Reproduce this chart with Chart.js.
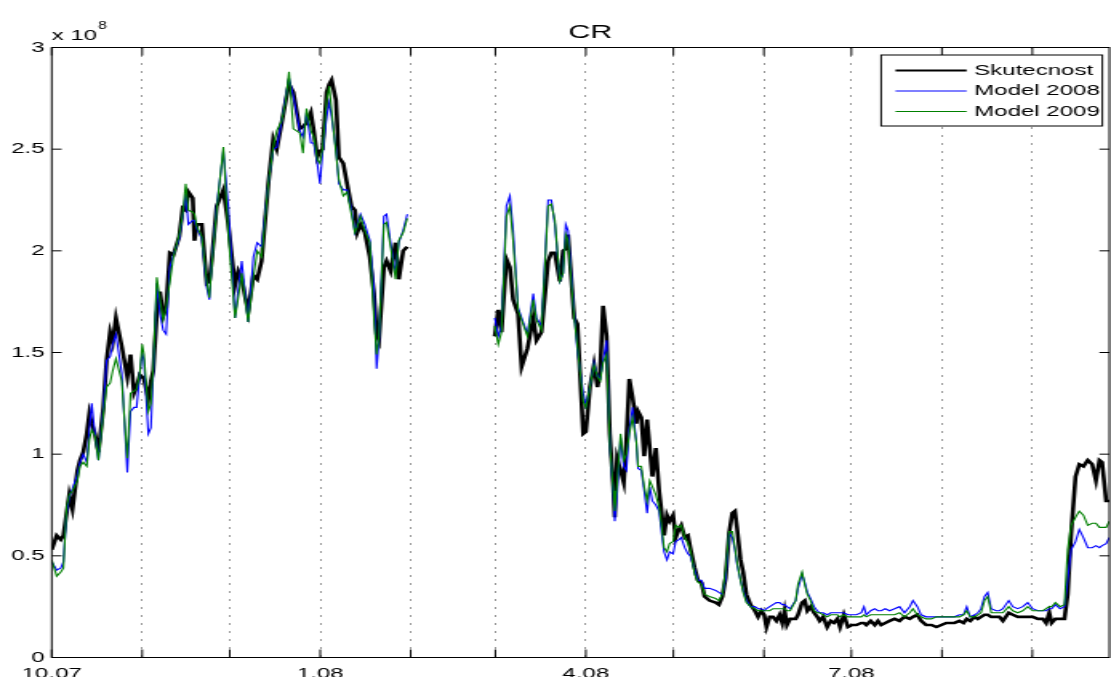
<!DOCTYPE html>
<html>
<head>
<meta charset="utf-8">
<title>CR</title>
<script src="https://cdn.jsdelivr.net/npm/chart.js@4"></script>
<style>
  html, body { margin: 0; padding: 0; background: #fff; }
  #chart { display: block; }
</style>
</head>
<body>
<!-- the figure is drawn narrow and stretched sideways, like the reference export -->
<canvas id="chart" width="694" height="677" style="width:1111px;height:677px"></canvas>
<script>
// --- 1. Data (values in units of 1e8, x = days since 1.10.2007) ---
const days = [
  0, 1.7, 3.1, 4.0, 5.1, 6.0, 7.1, 8.8, 9.7, 10.8, 12.0, 12.9, 13.7, 14.8, 16.0, 17.7, 18.8, 20.0, 20.9, 22.0,
  24.0, 25.9, 27.0, 28.2, 29.1, 30.2, 31.0, 31.6, 33.1, 34.0, 34.8, 36.0, 37.1, 38.2, 39.2, 40.5, 41.7, 43.7, 44.9, 45.9,
  46.8, 48.3, 48.9, 49.7, 51.4, 53.1, 54.0, 54.8, 56.5, 58.8, 60.5,
  62.8, 63.9, 65.1, 67.3, 69.1, 70.4, 71.9, 74.2, 75.9, 77.1, 78.8, 80.2, 81.3, 82.8, 85.0, 86.1, 87.3, 88.8, 89.8, 91.0,
  91.9, 92.8, 94.2, 95.1, 95.9, 97.4, 98.4, 99.9, 101.2, 102.7, 103.9, 104.7, 105.8, 107.3, 109.0, 110.4, 111.3, 112.1, 113.8, 114.7,
  116.1, 117.8, 118.9, 120.4, 121.8,
  137,
  151.8, 153.0, 154.1, 155.8, 157.0, 158.1, 159.8, 161.0, 163.0, 165.0, 166.1, 167.8, 170.1, 171.2, 172.4, 174.1, 175.2, 176.1, 176.9, 179.0,
  180.1, 182.1, 183.0, 184.4, 185.8, 187.0, 187.9, 188.9, 190.1,
  191.2, 192.4, 192.9, 193.7, 194.9, 196.0, 196.9, 197.9,
  199.0, 200.3, 200.9, 202.0, 203.0, 204.0, 204.9, 205.8, 207.0, 208.1, 209.0, 209.8, 210.8, 211.7, 212.9, 213.8, 214.9, 215.7, 216.9, 218.0,
  218.8, 220.3, 221.4, 222.6, 223.7, 225.4, 227.5, 228.6, 229.8, 230.9, 232.1, 233.2, 234.1, 234.8, 236.0, 236.9, 238.0, 239.4, 240.9, 242.0,
  243.1, 244.1, 244.9, 246.0, 247.1, 248.3, 249.4, 250.3, 251.1, 251.9, 253.0, 254.9,
  255.7, 257.1, 258.0, 258.9, 260.0, 261.2, 262.3, 263.1, 264.3, 265.7, 266.9, 268.0, 269.2, 270.1, 271.4, 272.8, 274.2, 275.7, 277.4, 278.3,
  279.1, 280.6, 282.0, 283.1, 284.2, 285.6, 287.1, 288.8, 290.5, 292.2, 294.0, 295.1, 296.6, 297.9, 299.6, 301.4, 303.1, 304.8, 306.5,
  309.3, 311.0, 312.4, 313.5, 314.7, 316.2, 317.3, 318.4, 319.6, 320.7, 321.9, 323.6, 324.7, 325.9, 327.9, 329.3, 331.0, 332.7, 334.4, 336.1,
  337.9, 339.6, 340.7, 341.8, 342.6, 343.9, 345.5, 347.0, 348.1, 349.3, 350.8, 352.1, 353.5, 355.0, 356.5, 357.8, 359.0, 359.9, 361.3, 362.4
];

const skutecnost = [
  0.53, 0.60, 0.58, 0.60, 0.71, 0.80, 0.73, 0.92, 0.97, 1.01, 1.10, 1.20, 1.15, 1.10, 1.01, 1.23, 1.46, 1.60, 1.55, 1.67,
  1.53, 1.38, 1.49, 1.30, 1.33, 1.39, 1.38, 1.37, 1.27, 1.36, 1.41, 1.69, 1.80, 1.68, 1.72, 1.99, 1.98, 2.07, 2.21, 2.20,
  2.29, 2.26, 2.05, 2.13, 2.13, 1.84, 1.85, 1.95, 2.22, 2.30, 2.13,
  1.83, 1.90, 1.86, 1.70, 1.88, 1.86, 1.95, 2.33, 2.55, 2.50, 2.63, 2.74, 2.82, 2.78, 2.60, 2.61, 2.63, 2.68, 2.59, 2.46,
  2.49, 2.50, 2.78, 2.82, 2.84, 2.74, 2.46, 2.43, 2.33, 2.22, 2.20, 2.09, 2.13, 2.09, 1.97, 1.79, 1.59, 1.56, 1.92, 1.95,
  1.90, 2.04, 1.86, 2.00, 2.02,
  null,
  1.58, 1.71, 1.60, 1.96, 1.92, 1.76, 1.69, 1.43, 1.52, 1.67, 1.56, 1.60, 1.95, 1.99, 1.99, 1.85, 2.00, 2.01, 2.08, 1.67,
  1.64, 1.10, 1.11, 1.33, 1.44, 1.33, 1.41, 1.73, 1.58,
  1.10, 0.84, 0.69, 0.98, 0.92, 0.86, 1.07, 1.37,
  1.28, 1.15, 1.21, 1.18, 0.99, 1.17, 1.03, 0.89, 1.03, 0.82, 0.71, 0.60, 0.70, 0.67, 0.70, 0.59, 0.63, 0.65, 0.59, 0.60,
  0.54, 0.44, 0.38, 0.37, 0.30, 0.28, 0.27, 0.26, 0.30, 0.39, 0.61, 0.71, 0.72, 0.64, 0.48, 0.42, 0.31, 0.26, 0.23, 0.20,
  0.23, 0.21, 0.15, 0.20, 0.20, 0.18, 0.21, 0.17, 0.23, 0.16, 0.19, 0.19,
  0.21, 0.27, 0.28, 0.23, 0.25, 0.22, 0.20, 0.18, 0.20, 0.15, 0.18, 0.17, 0.19, 0.15, 0.21, 0.15, 0.16, 0.16, 0.17, 0.17,
  0.16, 0.18, 0.16, 0.18, 0.16, 0.17, 0.18, 0.19, 0.18, 0.20, 0.19, 0.20, 0.21, 0.18, 0.16, 0.16, 0.15, 0.16, 0.17,
  0.17, 0.18, 0.17, 0.19, 0.18, 0.20, 0.19, 0.20, 0.21, 0.21, 0.20, 0.20, 0.20, 0.18, 0.22, 0.21, 0.20, 0.20, 0.20, 0.20,
  0.19, 0.19, 0.17, 0.22, 0.17, 0.19, 0.19, 0.19, 0.31, 0.61, 0.89, 0.95, 0.94, 0.97, 0.95, 0.87, 0.97, 0.96, 0.77, 0.77
];

const model2008 = [
  0.47, 0.43, 0.44, 0.47, 0.71, 0.79, 0.83, 0.90, 0.96, 1.00, 0.96, 1.12, 1.25, 1.10, 0.97, 1.23, 1.46, 1.48, 1.54, 1.59,
  1.40, 0.91, 1.21, 1.23, 1.23, 1.40, 1.50, 1.46, 1.10, 1.13, 1.40, 1.84, 1.69, 1.61, 1.59, 1.92, 1.98, 2.06, 2.17, 2.28,
  2.13, 2.15, 2.15, 2.11, 2.06, 1.82, 1.76, 1.94, 2.22, 2.49, 2.22,
  1.67, 1.81, 1.95, 1.65, 1.97, 2.04, 2.02, 2.33, 2.50, 2.51, 2.64, 2.76, 2.85, 2.76, 2.59, 2.56, 2.68, 2.53, 2.53, 2.43,
  2.33, 2.48, 2.66, 2.73, 2.66, 2.50, 2.33, 2.30, 2.30, 2.20, 2.09, 2.13, 2.18, 2.13, 2.05, 1.81, 1.42, 1.56, 2.17, 2.18,
  2.04, 1.89, 2.04, 2.10, 2.18,
  null,
  1.67, 1.58, 1.63, 2.22, 2.27, 2.10, 1.72, 1.67, 1.59, 1.79, 1.67, 1.63, 2.25, 2.25, 2.13, 1.85, 1.89, 2.13, 2.10, 1.69,
  1.51, 1.30, 1.24, 1.33, 1.45, 1.38, 1.37, 1.46, 1.56,
  1.05, 0.80, 0.67, 0.80, 1.08, 0.94, 0.92, 1.12,
  1.23, 1.06, 0.93, 0.92, 0.82, 0.71, 0.84, 0.77, 0.75, 0.72, 0.61, 0.52, 0.48, 0.52, 0.51, 0.57, 0.58, 0.59, 0.54, 0.51,
  0.50, 0.43, 0.38, 0.38, 0.34, 0.34, 0.33, 0.32, 0.31, 0.39, 0.61, 0.59, 0.53, 0.46, 0.38, 0.33, 0.28, 0.25, 0.25, 0.24,
  0.24, 0.23, 0.24, 0.25, 0.26, 0.27, 0.27, 0.26, 0.26, 0.25, 0.24, 0.28,
  0.34, 0.41, 0.37, 0.32, 0.29, 0.25, 0.23, 0.22, 0.22, 0.21, 0.22, 0.22, 0.22, 0.22, 0.22, 0.21, 0.21, 0.21, 0.22, 0.25,
  0.21, 0.23, 0.24, 0.23, 0.23, 0.24, 0.23, 0.24, 0.25, 0.22, 0.25, 0.28, 0.25, 0.21, 0.20, 0.20, 0.20, 0.20, 0.20,
  0.20, 0.21, 0.21, 0.25, 0.20, 0.21, 0.22, 0.24, 0.30, 0.32, 0.24, 0.23, 0.23, 0.24, 0.28, 0.25, 0.24, 0.25, 0.27, 0.24,
  0.23, 0.23, 0.23, 0.24, 0.24, 0.26, 0.24, 0.25, 0.38, 0.53, 0.57, 0.63, 0.59, 0.54, 0.54, 0.55, 0.54, 0.55, 0.56, 0.59
];

const model2009 = [
  0.48, 0.40, 0.42, 0.44, 0.74, 0.80, 0.82, 0.87, 0.94, 0.96, 0.94, 1.07, 1.12, 1.09, 0.97, 1.20, 1.33, 1.35, 1.41, 1.47,
  1.36, 0.98, 1.30, 1.31, 1.32, 1.40, 1.54, 1.49, 1.21, 1.25, 1.43, 1.87, 1.76, 1.66, 1.72, 1.85, 1.97, 2.08, 2.18, 2.33,
  2.20, 2.19, 2.18, 2.12, 2.07, 1.85, 1.77, 1.92, 2.20, 2.51, 2.08,
  1.67, 1.77, 1.89, 1.65, 1.87, 2.00, 1.97, 2.33, 2.51, 2.59, 2.64, 2.74, 2.88, 2.60, 2.58, 2.48, 2.70, 2.59, 2.56, 2.45,
  2.43, 2.50, 2.74, 2.81, 2.69, 2.48, 2.35, 2.27, 2.29, 2.18, 2.09, 2.12, 2.17, 2.10, 2.04, 1.67, 1.49, 1.58, 2.13, 2.14,
  2.02, 1.86, 2.05, 2.09, 2.16,
  null,
  1.63, 1.54, 1.60, 2.17, 2.22, 2.05, 1.71, 1.66, 1.58, 1.76, 1.66, 1.61, 2.22, 2.23, 2.15, 1.85, 1.89, 2.08, 2.05, 1.67,
  1.53, 1.26, 1.23, 1.33, 1.44, 1.38, 1.36, 1.45, 1.49,
  1.05, 0.82, 0.72, 0.85, 1.10, 0.97, 1.00, 1.10,
  1.18, 1.06, 0.94, 0.94, 0.84, 0.77, 0.87, 0.84, 0.80, 0.74, 0.64, 0.54, 0.52, 0.56, 0.57, 0.65, 0.64, 0.65, 0.59, 0.56,
  0.53, 0.41, 0.37, 0.36, 0.31, 0.30, 0.29, 0.28, 0.31, 0.43, 0.62, 0.62, 0.54, 0.47, 0.38, 0.32, 0.27, 0.25, 0.24, 0.23,
  0.23, 0.23, 0.23, 0.23, 0.24, 0.24, 0.24, 0.24, 0.24, 0.23, 0.23, 0.28,
  0.36, 0.42, 0.36, 0.31, 0.28, 0.23, 0.22, 0.22, 0.21, 0.20, 0.21, 0.21, 0.21, 0.20, 0.21, 0.20, 0.20, 0.20, 0.20, 0.21,
  0.20, 0.21, 0.21, 0.21, 0.21, 0.21, 0.21, 0.21, 0.22, 0.20, 0.22, 0.24, 0.21, 0.20, 0.19, 0.19, 0.20, 0.20, 0.20,
  0.20, 0.20, 0.21, 0.23, 0.20, 0.20, 0.21, 0.22, 0.28, 0.30, 0.22, 0.22, 0.22, 0.22, 0.25, 0.23, 0.22, 0.23, 0.25, 0.23,
  0.23, 0.23, 0.24, 0.25, 0.25, 0.27, 0.25, 0.26, 0.53, 0.65, 0.69, 0.72, 0.70, 0.65, 0.66, 0.66, 0.64, 0.64, 0.64, 0.67
];

// month starts (days since 1.10.2007) and the labels MATLAB printed on them
const monthStarts = [0, 31, 61, 92, 123, 152, 183, 213, 244, 274, 305, 336];
const monthLabels = ['10.07', '', '', '1.08', '', '', '4.08', '', '', '7.08', '', ''];
const yTicks = [0, 0.5, 1, 1.5, 2, 2.5, 3];
const X_MAX = 362.4;

// --- 2. Look ---
const FONT = "'Liberation Sans', Arial, Helvetica, sans-serif";
const X_TICK_LEN = 8;
const Y_TICK_LEN = 6.2;   // internal px, the canvas is stretched x1.6

const series = [
  { label: 'Skutecnost', data: skutecnost, color: '#000000', width: 2.6 },
  { label: 'Model 2008', data: model2008, color: '#0000ff', width: 1.1 },
  { label: 'Model 2009', data: model2009, color: '#008000', width: 1.1 }
];

const toPoints = vals => days.map((d, i) => ({ x: d, y: vals[i] }));

// --- 3. Frame, title, exponent and legend in MATLAB style ---
const matlabFrame = {
  id: 'matlabFrame',
  afterDraw(chart) {
    const { ctx, chartArea: a, scales: { x, y } } = chart;
    ctx.save();
    ctx.strokeStyle = '#000';
    ctx.lineWidth = 1;
    ctx.strokeRect(a.left, a.top, a.right - a.left, a.bottom - a.top);

    ctx.beginPath();
    monthStarts.forEach(d => {
      const px = x.getPixelForValue(d);
      ctx.moveTo(px, a.bottom); ctx.lineTo(px, a.bottom - X_TICK_LEN);
      ctx.moveTo(px, a.top); ctx.lineTo(px, a.top + X_TICK_LEN);
    });
    yTicks.forEach(v => {
      const py = y.getPixelForValue(v);
      ctx.moveTo(a.left, py); ctx.lineTo(a.left + Y_TICK_LEN, py);
      ctx.moveTo(a.right, py); ctx.lineTo(a.right - Y_TICK_LEN, py);
    });
    ctx.stroke();

    // title
    ctx.fillStyle = '#000';
    ctx.font = `19px ${FONT}`;
    ctx.textAlign = 'center';
    ctx.textBaseline = 'alphabetic';
    ctx.fillText('CR', (a.left + a.right) / 2 + 6, 38);

    // exponent label  x 10^8
    ctx.textAlign = 'left';
    ctx.font = `15px ${FONT}`;
    ctx.fillText('x 10', a.left, 40);
    const w = ctx.measureText('x 10').width;
    ctx.font = `10px ${FONT}`;
    ctx.fillText('8', a.left + w + 0.5, 29);

    // legend box
    const box = { left: 550.4, top: 55, right: 688.6, bottom: 126 };
    ctx.fillStyle = '#fff';
    ctx.fillRect(box.left, box.top, box.right - box.left, box.bottom - box.top);
    ctx.strokeStyle = '#000';
    ctx.lineWidth = 1;
    ctx.strokeRect(box.left, box.top, box.right - box.left, box.bottom - box.top);
    ctx.font = `15px ${FONT}`;
    ctx.textBaseline = 'middle';
    series.forEach((s, i) => {
      const ly = 70.5 + i * 20.5;
      ctx.strokeStyle = s.color;
      ctx.lineWidth = i === 0 ? 2 : 1.1;
      ctx.beginPath();
      ctx.moveTo(559.4, ly); ctx.lineTo(603.8, ly);
      ctx.stroke();
      ctx.fillStyle = '#000';
      ctx.fillText(s.label, 608.6, ly);
    });
    ctx.restore();
  }
};

// --- 4. Chart ---
const chart = new Chart(document.getElementById('chart'), {
  type: 'line',
  data: {
    datasets: series.map((s, i) => ({
      label: s.label,
      data: toPoints(s.data),
      borderColor: s.color,
      borderWidth: s.width,
      pointRadius: 0,
      tension: 0,
      spanGaps: false,
      order: series.length - i
    }))
  },
  options: {
    responsive: false,
    devicePixelRatio: 1,
    animation: false,
    layout: { padding: { top: 47.5, right: 1, bottom: 0, left: 0 } },
    plugins: { legend: { display: false }, title: { display: false }, tooltip: { enabled: false } },
    scales: {
      x: {
        type: 'linear',
        min: 0,
        max: X_MAX,
        afterBuildTicks: s => { s.ticks = monthStarts.map(v => ({ value: v })); },
        afterFit: s => { s.height = 19.5; },
        grid: {
          drawTicks: false,
          lineWidth: 1,
          color: c => (c.tick && c.tick.value > 0 ? '#333' : 'rgba(0,0,0,0)')
        },
        border: { display: false, dash: [1, 7] },
        ticks: {
          autoSkip: false,
          maxRotation: 0,
          padding: 7,
          color: '#000',
          font: { family: FONT, size: 15 },
          callback: v => monthLabels[monthStarts.indexOf(v)] || ''
        }
      },
      y: {
        min: 0,
        max: 3,
        afterBuildTicks: s => { s.ticks = yTicks.map(v => ({ value: v })); },
        afterFit: s => { s.width = 32.3; },
        grid: { display: false, drawTicks: false },
        border: { display: false },
        ticks: {
          padding: 4.5,
          color: '#000',
          font: { family: FONT, size: 15 },
          callback: v => String(v)
        }
      }
    }
  },
  plugins: [matlabFrame]
});
</script>
</body>
</html>
